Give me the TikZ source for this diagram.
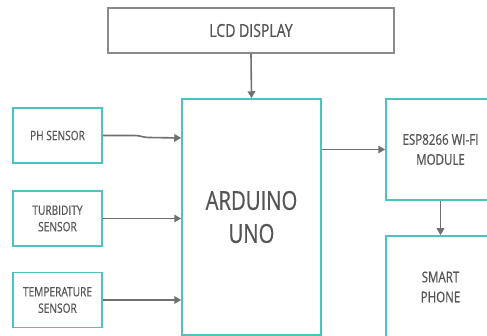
\documentclass[tikz,border=0pt]{standalone}
\usepackage{fontspec}
\setmainfont[FakeStretch=0.78,FakeBold=0.6]{Open Sans}
\usetikzlibrary{arrows.meta}
\definecolor{teal1}{HTML}{4CC2C2}
\definecolor{txt}{HTML}{555555}
\definecolor{arr}{HTML}{707070}
\definecolor{lcdb}{HTML}{8A8A8A}
\tikzset{
  blk/.style={draw=teal1, line width=1.5pt, rectangle, inner sep=0pt, text=txt, align=center, fill=white},
  lcdblk/.style={draw=lcdb, line width=1.4pt, rectangle, inner sep=0pt, text=txt, align=center, fill=white},
  conn/.style={draw=arr, line width=1.6pt, -{Triangle[length=7pt,width=7.5pt]}},
}
\begin{document}
\begin{tikzpicture}[x=1pt,y=-1pt]
\useasboundingbox (0,0) rectangle (487,336);
\node[lcdblk, minimum width=286pt, minimum height=45pt, font=\fontsize{18}{20}\selectfont] (lcd) at (251,30.5) {LCD DISPLAY};
\node[blk, minimum width=139pt, minimum height=236pt, font=\fontsize{26}{33}\selectfont] (ard) at (251.5,217) {ARDUINO\\UNO};
\node[blk, minimum width=89pt, minimum height=55pt, font=\fontsize{13}{16.5}\selectfont] (ph) at (57.5,135.5) {PH SENSOR};
\node[blk, minimum width=89pt, minimum height=55pt, font=\fontsize{13}{16.5}\selectfont] (turb) at (57.5,218.5) {TURBIDITY\\SENSOR};
\node[blk, minimum width=89pt, minimum height=55pt, font=\fontsize{13}{16.5}\selectfont] (temp) at (57.5,300) {TEMPERATURE\\SENSOR};
\node[blk, minimum width=109pt, minimum height=101pt, font=\fontsize{14.8}{20}\selectfont] (esp) at (440.5,149.5) {ESP8266 WI-FI\\MODULE};
\node[blk, minimum width=109pt, minimum height=102pt, font=\fontsize{14.8}{20}\selectfont] (phone) at (440.5,287) {SMART\\PHONE};
\coordinate (phin) at (182,138);
\draw[conn] (lcd.south) -- (ard.north);
\draw[conn] (ph.east) -- ++(32,0) .. controls +(6,0) and +(-6,0) .. ++(14,2) -- (phin -| ard.west);
\draw[conn] (turb.east) -- (turb.east -| ard.west);
\draw[conn] (temp.east) -- (temp.east -| ard.west);
\draw[conn] (ard.east |- esp.west) -- (esp.west);
\draw[conn] (esp.south) -- (phone.north);
\end{tikzpicture}
\end{document}
